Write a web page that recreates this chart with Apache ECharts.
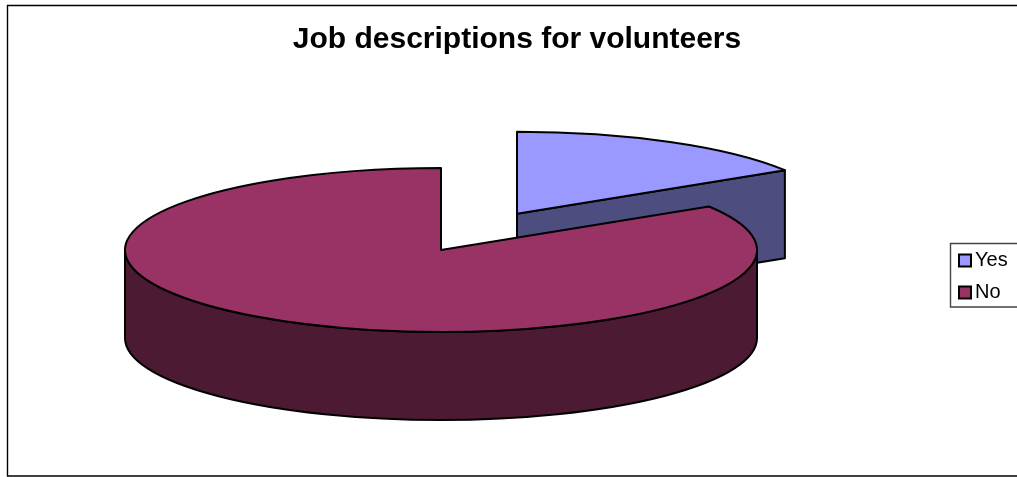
<!DOCTYPE html>
<html>
<head>
<meta charset="utf-8">
<style>html,body{margin:0;padding:0;background:#fff}#c{width:1017px;height:477px}</style>
<script src="https://cdn.jsdelivr.net/npm/echarts@6/dist/echarts.min.js"></script>
</head>
<body>
<div id="c"></div>
<script>
const titleText = 'Job descriptions for volunteers';
const categories = ['Yes', 'No'];
const values = [16.1, 83.9];
const topColors = ['#9999FF', '#993366'];
const sideColors = ['#4D4D80', '#4D1A33'];
const centers = [[517, 213.7], [441, 250]];
const RX = 316, RY = 82, DEPTH = 88, LW = 2;

const total = values.reduce((a, b) => a + b, 0);
function startAngle(i) {
  let s = 0;
  for (let k = 0; k < i; k++) s += values[k];
  return s / total * 360;
}
function slicePaths(i, value) {
  const c = centers[i];
  const a0 = startAngle(i), a1 = a0 + value / total * 360;
  const pt = (deg, dy) => {
    const r = deg * Math.PI / 180;
    return [c[0] + RX * Math.sin(r), c[1] - RY * Math.cos(r) + (dy || 0)];
  };
  const s = pt(a0), e = pt(a1);
  const top = `M${c[0]} ${c[1]}L${s[0]} ${s[1]}A${RX} ${RY} 0 ${a1 - a0 > 180 ? 1 : 0} 1 ${e[0]} ${e[1]}Z`;
  const sides = [];
  // cut face at the end of the slice
  if (a1 % 360 > 0 && a1 % 360 < 180) {
    const e2 = pt(a1, DEPTH);
    sides.push(`M${c[0]} ${c[1]}L${e[0]} ${e[1]}L${e2[0]} ${e2[1]}L${c[0]} ${c[1] + DEPTH}Z`);
  }
  // outer wall, the front half of the rim
  const w0 = Math.max(a0, 90), w1 = Math.min(a1, 270);
  if (w1 > w0) {
    const p = pt(w0), q = pt(w1), p2 = pt(w0, DEPTH), q2 = pt(w1, DEPTH);
    sides.push(`M${p[0]} ${p[1]}A${RX} ${RY} 0 0 1 ${q[0]} ${q[1]}L${q2[0]} ${q2[1]}A${RX} ${RY} 0 0 0 ${p2[0]} ${p2[1]}Z`);
  }
  return { top, sides };
}
function makeSeries(i) {
  return {
    type: 'custom',
    name: categories[i],
    coordinateSystem: 'none',
    silent: true,
    animation: false,
    itemStyle: { color: topColors[i] },
    data: [[values[i]]],
    renderItem: function (params, api) {
      const p = slicePaths(i, api.value(0));
      const children = p.sides.map(d => ({
        type: 'path',
        shape: { pathData: d },
        style: { fill: sideColors[i], stroke: '#000', lineWidth: LW, lineJoin: 'round' }
      }));
      children.push({
        type: 'path',
        shape: { pathData: p.top },
        style: { fill: topColors[i], stroke: '#000', lineWidth: LW, lineJoin: 'round' }
      });
      return { type: 'group', children };
    }
  };
}
const chart = echarts.init(document.getElementById('c'), null, { renderer: 'canvas' });
chart.setOption({
  animation: false,
  backgroundColor: '#fff',
  title: {
    text: titleText,
    left: 512, top: 20, textAlign: 'center',
    textStyle: { fontFamily: 'Liberation Sans', fontWeight: 'bold', fontSize: 30, color: '#000' }
  },
  legend: {
    left: 950.5, top: 243.5,
    orient: 'vertical',
    data: categories,
    selectedMode: false,
    icon: 'rect',
    itemWidth: 12, itemHeight: 12,
    itemGap: 12,
    padding: [7, 30, 4.5, 7.5],
    backgroundColor: '#fff',
    borderColor: '#444', borderWidth: 1.4, borderRadius: 0,
    itemStyle: { borderColor: '#000', borderWidth: 2 },
    textStyle: { fontFamily: 'Liberation Sans', fontSize: 20, lineHeight: 20, color: '#000', padding: [0, 0, 0, -1] }
  },
  graphic: [{
    type: 'rect', silent: true,
    shape: { x: 7.5, y: 5.5, width: 1030, height: 470.5 },
    style: { fill: 'none', stroke: '#000', lineWidth: 1.4 }
  }],
  series: categories.map((_, i) => makeSeries(i))
});
</script>
</body>
</html>
